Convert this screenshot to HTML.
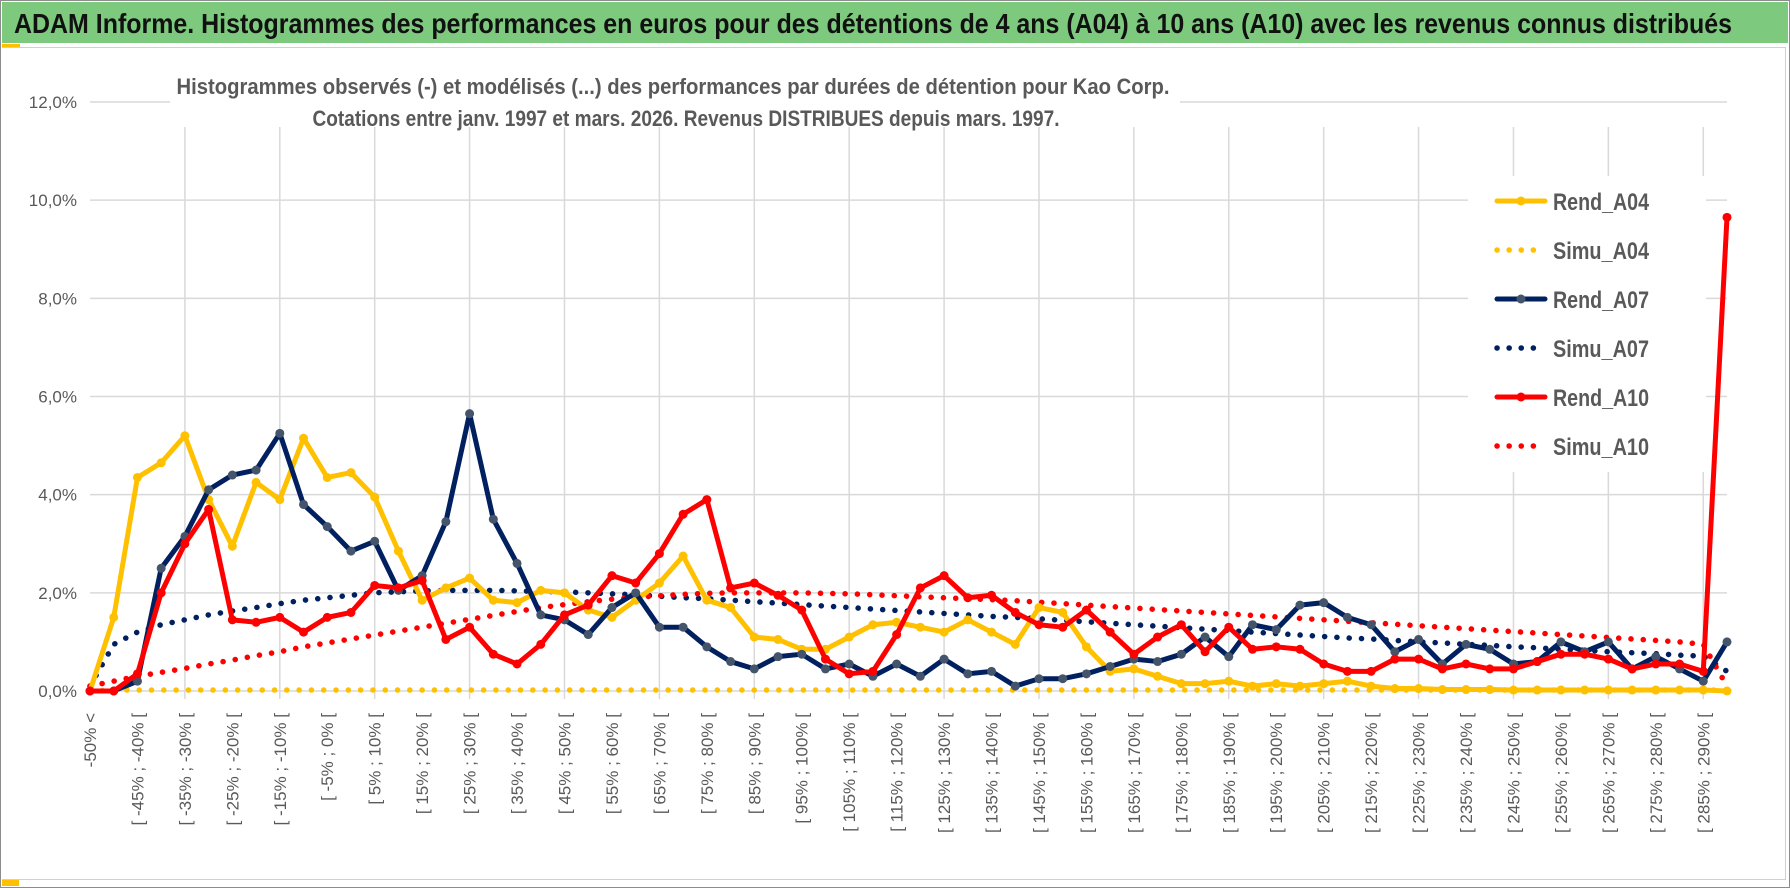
<!DOCTYPE html>
<html><head><meta charset="utf-8"><style>
html,body{margin:0;padding:0;background:#fff;}
svg{display:block;font-family:"Liberation Sans",sans-serif;}
</style></head><body>
<svg id="chart" width="1790" height="888" viewBox="0 0 1790 888" xmlns="http://www.w3.org/2000/svg">
<rect x="0.5" y="0.5" width="1789" height="887" fill="#fff" stroke="#8c8c8c"/>
<rect x="2" y="2" width="1786" height="41" fill="#7dc97e"/>
<text x="14" y="33" font-size="28" font-weight="bold" fill="#111" textLength="1718" lengthAdjust="spacingAndGlyphs">ADAM Informe. Histogrammes des performances en euros pour des détentions de 4 ans (A04) à 10 ans (A10) avec les revenus connus distribués</text>
<rect x="2" y="44" width="18" height="3" fill="#ffc000"/>
<line x1="2" y1="47.5" x2="1785" y2="47.5" stroke="#d0d0d0"/>
<line x1="1785.5" y1="47" x2="1785.5" y2="880" stroke="#d0d0d0"/>
<line x1="2" y1="879.5" x2="1785" y2="879.5" stroke="#d0d0d0"/>
<rect x="2" y="880" width="17" height="6" fill="#ffc000"/>
<g id="grid"></g>
<g id="yaxis"></g>
<g id="xaxis"></g>
<rect x="1468" y="176" width="238" height="296" fill="#fff"/>
<g id="series"></g>
<rect x="170" y="62" width="1010" height="64" fill="#fff"/>
<text x="673" y="94" font-size="22" font-weight="bold" fill="#595959" text-anchor="middle" textLength="993" lengthAdjust="spacingAndGlyphs">Histogrammes observés (-) et modélisés (...) des performances par durées de détention pour Kao Corp.</text>
<text x="686" y="126" font-size="22" font-weight="bold" fill="#595959" text-anchor="middle" textLength="747" lengthAdjust="spacingAndGlyphs">Cotations entre janv. 1997 et mars. 2026. Revenus DISTRIBUES depuis mars. 1997.</text>
<g id="legend"></g>
</svg>
<script>
const yTicks = [0, 2, 4, 6, 8, 10, 12];
const yTickLabels = ["0,0%", "2,0%", "4,0%", "6,0%", "8,0%", "10,0%", "12,0%"];
const rendA04 = [0,1.5,4.35,4.65,5.2,3.9,2.95,4.25,3.9,5.15,4.35,4.45,3.95,2.85,1.85,2.1,2.3,1.85,1.8,2.05,2.0,1.65,1.5,1.85,2.2,2.75,1.85,1.7,1.1,1.05,0.85,0.85,1.1,1.35,1.4,1.3,1.2,1.45,1.2,0.95,1.7,1.6,0.9,0.4,0.45,0.3,0.15,0.15,0.2,0.1,0.15,0.1,0.15,0.2,0.1,0.05,0.05,0.03,0.03,0.03,0.02,0.02,0.02,0.02,0.02,0.02,0.02,0.02,0.02,0];
const simuA04 = [0,0.02,0.02,0.02,0.02,0.02,0.02,0.02,0.02,0.02,0.02,0.02,0.02,0.02,0.02,0.02,0.02,0.02,0.02,0.02,0.02,0.02,0.02,0.02,0.02,0.02,0.02,0.02,0.02,0.02,0.02,0.02,0.02,0.02,0.02,0.02,0.02,0.02,0.02,0.02,0.02,0.02,0.02,0.02,0.02,0.02,0.02,0.02,0.02,0.02,0.02,0.02,0.02,0.02,0.02,0.02,0.02,0.02,0.02,0.02,0.02,0.02,0.02,0.02,0.02,0.02,0.02,0.02,0.02,0.02];
const rendA07 = [0,0,0.2,2.5,3.15,4.1,4.4,4.5,5.25,3.8,3.35,2.85,3.05,2.05,2.35,3.45,5.65,3.5,2.6,1.55,1.45,1.15,1.7,2.0,1.3,1.3,0.9,0.6,0.45,0.7,0.75,0.45,0.55,0.3,0.55,0.3,0.65,0.35,0.4,0.1,0.25,0.25,0.35,0.5,0.65,0.6,0.75,1.1,0.7,1.35,1.25,1.75,1.8,1.5,1.35,0.8,1.05,0.55,0.95,0.85,0.55,0.6,1.0,0.8,1.0,0.45,0.7,0.45,0.2,1.0];
const simuA07 = [0.1,0.95,1.2,1.35,1.45,1.55,1.63,1.7,1.78,1.85,1.9,1.95,2.0,2.02,2.04,2.05,2.05,2.05,2.04,2.03,2.02,2.0,1.98,1.96,1.93,1.9,1.88,1.85,1.82,1.79,1.76,1.73,1.7,1.67,1.64,1.61,1.58,1.55,1.52,1.5,1.47,1.44,1.41,1.38,1.35,1.32,1.29,1.26,1.23,1.2,1.17,1.14,1.11,1.08,1.06,1.03,1.0,0.98,0.95,0.93,0.9,0.88,0.85,0.83,0.8,0.78,0.76,0.73,0.71,0.4];
const rendA10 = [0,0,0.35,2.0,3.0,3.7,1.45,1.4,1.5,1.2,1.5,1.6,2.15,2.1,2.25,1.05,1.3,0.75,0.55,0.95,1.55,1.75,2.35,2.2,2.8,3.6,3.9,2.1,2.2,1.95,1.65,0.65,0.35,0.4,1.15,2.1,2.35,1.9,1.95,1.6,1.35,1.3,1.65,1.2,0.75,1.1,1.35,0.8,1.3,0.85,0.9,0.85,0.55,0.4,0.4,0.65,0.65,0.45,0.55,0.45,0.45,0.6,0.75,0.75,0.65,0.45,0.55,0.55,0.4,9.65];
const simuA10 = [0.1,0.2,0.3,0.38,0.46,0.55,0.63,0.72,0.8,0.9,0.98,1.06,1.14,1.22,1.3,1.38,1.46,1.54,1.62,1.7,1.76,1.82,1.87,1.91,1.94,1.97,1.99,2.0,2.0,2.0,2.0,1.99,1.98,1.96,1.94,1.92,1.9,1.88,1.86,1.84,1.81,1.78,1.75,1.72,1.69,1.66,1.63,1.6,1.57,1.54,1.51,1.48,1.45,1.42,1.39,1.36,1.33,1.3,1.27,1.24,1.21,1.18,1.15,1.12,1.09,1.06,1.03,1.0,0.95,0.1];

const NS = "http://www.w3.org/2000/svg";
const N = rendA04.length;
const X0 = 90, X1 = 1727, Y0 = 691, Y12 = 102;
function xs(i){ return X0 + i*(X1-X0)/(N-1); }
function ys(v){ return Y0 - v*(Y0-Y12)/12; }
function mk(tag, attrs, parent){ const e=document.createElementNS(NS,tag); for(const k in attrs) e.setAttribute(k,attrs[k]); parent.appendChild(e); return e; }

const categories = ["-50% <"];
for(let a=-50;a<295;a+=5){ categories.push("[ "+a+"% ; "+(a+5)+"% ["); }

const grid = document.getElementById('grid');
yTicks.forEach((t)=>{
  const l = mk('line',{x1:X0,x2:X1,y1:ys(t),y2:ys(t),stroke:'#d9d9d9','stroke-width':1.5},grid);
  
  
});
for(let i=4;i<N;i+=4){
  const l = mk('line',{x1:xs(i),x2:xs(i),y1:127,y2:Y0+8,stroke:'#d9d9d9','stroke-width':1.5},grid);
  
  
}
const yaxis = document.getElementById('yaxis');
yTicks.forEach((t,k)=>{
  const tx = mk('text',{x:77,y:ys(t)+6,'font-size':17,fill:'#595959','text-anchor':'end'},yaxis);
  tx.textContent = yTickLabels[k];
  
  
});
const xaxis = document.getElementById('xaxis');
for(let i=0;i<N;i+=2){
  const x = xs(i), y = 713;
  const tx = mk('text',{x:x,y:y,'font-size':17,fill:'#595959','text-anchor':'end',transform:'rotate(-90 '+x+' '+y+')',dy:6},xaxis);
  tx.textContent = categories[i];
  
  
}
const series = document.getElementById('series');
function drawDotted(data,color,name){
  const pts = data.map((v,i)=>xs(i)+','+ys(v)).join(' ');
  const p = mk('polyline',{points:pts,fill:'none',stroke:color,'stroke-width':5.5,'stroke-linecap':'round','stroke-dasharray':'0.1 12.2'},series);
  
  
}
function drawSolid(data,color,mcolor,name){
  const g = mk('g',{},series);
  
  
  const pts = data.map((v,i)=>xs(i)+','+ys(v)).join(' ');
  const p = mk('polyline',{points:pts,fill:'none',stroke:color,'stroke-width':5,'stroke-linejoin':'round'},g);
  
  
  data.forEach((v,i)=>{
    const c = mk('circle',{cx:xs(i),cy:ys(v),r:4.5,fill:mcolor},g);
    
    
  });
}
drawDotted(simuA04,'#ffc000','simu-a04');
drawDotted(simuA07,'#002060','simu-a07');
drawDotted(simuA10,'#ff0000','simu-a10');
drawSolid(rendA04,'#ffc000','#ffc000','rend-a04');
drawSolid(rendA07,'#002060','#44546a','rend-a07');
drawSolid(rendA10,'#ff0000','#ff0000','rend-a10');

const legend = document.getElementById('legend');
const legendNames = ["Rend_A04","Simu_A04","Rend_A07","Simu_A07","Rend_A10","Simu_A10"];
const legendColors = ['#ffc000','#ffc000','#002060','#002060','#ff0000','#ff0000'];
const legendMarker = ['#ffc000',null,'#44546a',null,'#ff0000',null];
const legendY = [201,250,299,348,397,446];
legendNames.forEach((n,k)=>{
  const g = mk('g',{},legend);
  
  
  const y = legendY[k];
  if(legendMarker[k]){
    mk('line',{x1:1497,x2:1545,y1:y,y2:y,stroke:legendColors[k],'stroke-width':5,'stroke-linecap':'round'},g);
    mk('circle',{cx:1521,cy:y,r:4.5,fill:legendMarker[k]},g);
  } else {
    mk('line',{x1:1497,x2:1540,y1:y,y2:y,stroke:legendColors[k],'stroke-width':5.5,'stroke-linecap':'round','stroke-dasharray':'0.1 12'},g);
  }
  const t = mk('text',{x:1553,y:y+9,'font-size':24,'font-weight':'bold',fill:'#595959',textLength:96,lengthAdjust:'spacingAndGlyphs'},g);
  t.textContent = n;
});
</script>
</body></html>
